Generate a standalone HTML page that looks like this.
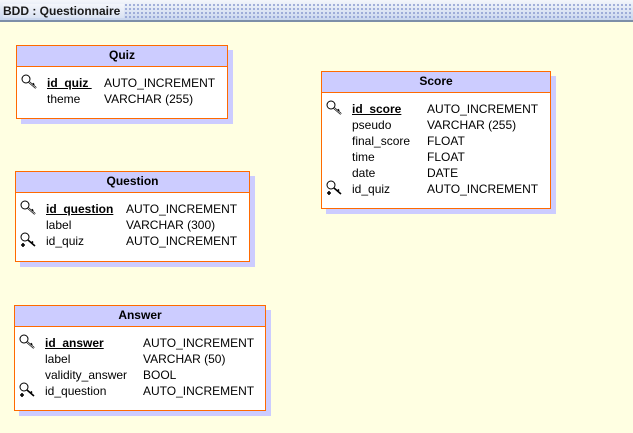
<!DOCTYPE html>
<html><head><meta charset="utf-8"><style>
*{margin:0;padding:0;box-sizing:border-box}
body{width:633px;height:433px;background:#ffffe2;position:relative;overflow:hidden;font-family:"Liberation Sans",sans-serif;font-size:12px;color:#000}
#bar{position:absolute;left:0;top:0;width:633px;height:22px;background:linear-gradient(#f4f6fb,#c9d6ee);border-bottom:2px solid #7d8fa8}
#bar .dots{position:absolute;left:124px;top:3px;right:0;height:17px;background-image:radial-gradient(#8a9ad0 0.8px,transparent 1px);background-size:4px 4px}
#bar .t{position:absolute;left:3px;top:4px;font-size:12px;color:#1a1a1a;background:linear-gradient(#f4f6fb,#d9e2f2);padding-right:4px;font-weight:600}
.sh{position:absolute;background:#ccccff}
.box{position:absolute;background:#fff;border:1px solid #ff6a00}
.hd{height:21px;background:#ccccff;border-bottom:1px solid #ff6a00;text-align:center;font-weight:bold;line-height:19px}
.r{position:absolute;height:16px;line-height:16px;white-space:nowrap}
.pk{font-weight:bold;text-decoration:underline}
.k{position:absolute;width:17px;height:16px}
</style></head><body>
<div id="bar"><div class="dots"></div><div class="t">BDD : Questionnaire</div></div>

<!-- Quiz -->
<div class="sh" style="left:21px;top:50px;width:212px;height:74px"></div>
<div class="box" style="left:16px;top:45px;width:212px;height:74px">
<div class="hd">Quiz</div>
<svg class="k" style="left:4px;top:28px" viewBox="0 0 17 16"><circle cx="5" cy="5" r="4" fill="#fff" stroke="#000"/><path d="M8 8 L15 14 M11.5 11 L13 9.5" stroke="#000" stroke-width="2" fill="none"/><path d="M8 8 L15 14" stroke="#fff" stroke-width="0.6"/></svg>
<div class="r pk" style="left:30px;top:29px">id_quiz&nbsp;</div><div class="r" style="left:87px;top:29px">AUTO_INCREMENT</div>
<div class="r" style="left:30px;top:45px">theme</div><div class="r" style="left:87px;top:45px">VARCHAR (255)</div>
</div>

<!-- Score -->
<div class="sh" style="left:326px;top:76px;width:230px;height:138px"></div>
<div class="box" style="left:321px;top:71px;width:230px;height:138px">
<div class="hd">Score</div>
<svg class="k" style="left:4px;top:28px" viewBox="0 0 17 16"><circle cx="5" cy="5" r="4" fill="#fff" stroke="#000"/><path d="M8 8 L15 14 M11.5 11 L13 9.5" stroke="#000" stroke-width="2" fill="none"/><path d="M8 8 L15 14" stroke="#fff" stroke-width="0.6"/></svg>
<div class="r pk" style="left:30px;top:29px">id_score</div><div class="r" style="left:105px;top:29px">AUTO_INCREMENT</div>
<div class="r" style="left:30px;top:45px">pseudo</div><div class="r" style="left:105px;top:45px">VARCHAR (255)</div>
<div class="r" style="left:30px;top:61px">final_score</div><div class="r" style="left:105px;top:61px">FLOAT</div>
<div class="r" style="left:30px;top:77px">time</div><div class="r" style="left:105px;top:77px">FLOAT</div>
<div class="r" style="left:30px;top:93px">date</div><div class="r" style="left:105px;top:93px">DATE</div>
<svg class="k" style="left:4px;top:108px" viewBox="0 0 17 16"><circle cx="5" cy="5" r="4" fill="#fff" stroke="#000"/><path d="M8 8 L15 14 M11.5 11 L13 9.5 M1 13h4M3 11v4" stroke="#000" stroke-width="1.6" fill="none"/></svg>
<div class="r" style="left:30px;top:109px">id_quiz</div><div class="r" style="left:105px;top:109px">AUTO_INCREMENT</div>
</div>

<!-- Question -->
<div class="sh" style="left:20px;top:176px;width:235px;height:91px"></div>
<div class="box" style="left:15px;top:171px;width:235px;height:91px">
<div class="hd">Question</div>
<svg class="k" style="left:4px;top:28px" viewBox="0 0 17 16"><circle cx="5" cy="5" r="4" fill="#fff" stroke="#000"/><path d="M8 8 L15 14 M11.5 11 L13 9.5" stroke="#000" stroke-width="2" fill="none"/><path d="M8 8 L15 14" stroke="#fff" stroke-width="0.6"/></svg>
<div class="r pk" style="left:30px;top:29px">id_question</div><div class="r" style="left:110px;top:29px">AUTO_INCREMENT</div>
<div class="r" style="left:30px;top:45px">label</div><div class="r" style="left:110px;top:45px">VARCHAR (300)</div>
<svg class="k" style="left:4px;top:60px" viewBox="0 0 17 16"><circle cx="5" cy="5" r="4" fill="#fff" stroke="#000"/><path d="M8 8 L15 14 M11.5 11 L13 9.5 M1 13h4M3 11v4" stroke="#000" stroke-width="1.6" fill="none"/></svg>
<div class="r" style="left:30px;top:61px">id_quiz</div><div class="r" style="left:110px;top:61px">AUTO_INCREMENT</div>
</div>

<!-- Answer -->
<div class="sh" style="left:19px;top:310px;width:252px;height:106px"></div>
<div class="box" style="left:14px;top:305px;width:252px;height:106px">
<div class="hd">Answer</div>
<svg class="k" style="left:4px;top:28px" viewBox="0 0 17 16"><circle cx="5" cy="5" r="4" fill="#fff" stroke="#000"/><path d="M8 8 L15 14 M11.5 11 L13 9.5" stroke="#000" stroke-width="2" fill="none"/><path d="M8 8 L15 14" stroke="#fff" stroke-width="0.6"/></svg>
<div class="r pk" style="left:30px;top:29px">id_answer</div><div class="r" style="left:128px;top:29px">AUTO_INCREMENT</div>
<div class="r" style="left:30px;top:45px">label</div><div class="r" style="left:128px;top:45px">VARCHAR (50)</div>
<div class="r" style="left:30px;top:61px">validity_answer</div><div class="r" style="left:128px;top:61px">BOOL</div>
<svg class="k" style="left:4px;top:76px" viewBox="0 0 17 16"><circle cx="5" cy="5" r="4" fill="#fff" stroke="#000"/><path d="M8 8 L15 14 M11.5 11 L13 9.5 M1 13h4M3 11v4" stroke="#000" stroke-width="1.6" fill="none"/></svg>
<div class="r" style="left:30px;top:77px">id_question</div><div class="r" style="left:128px;top:77px">AUTO_INCREMENT</div>
</div>
</body></html>
